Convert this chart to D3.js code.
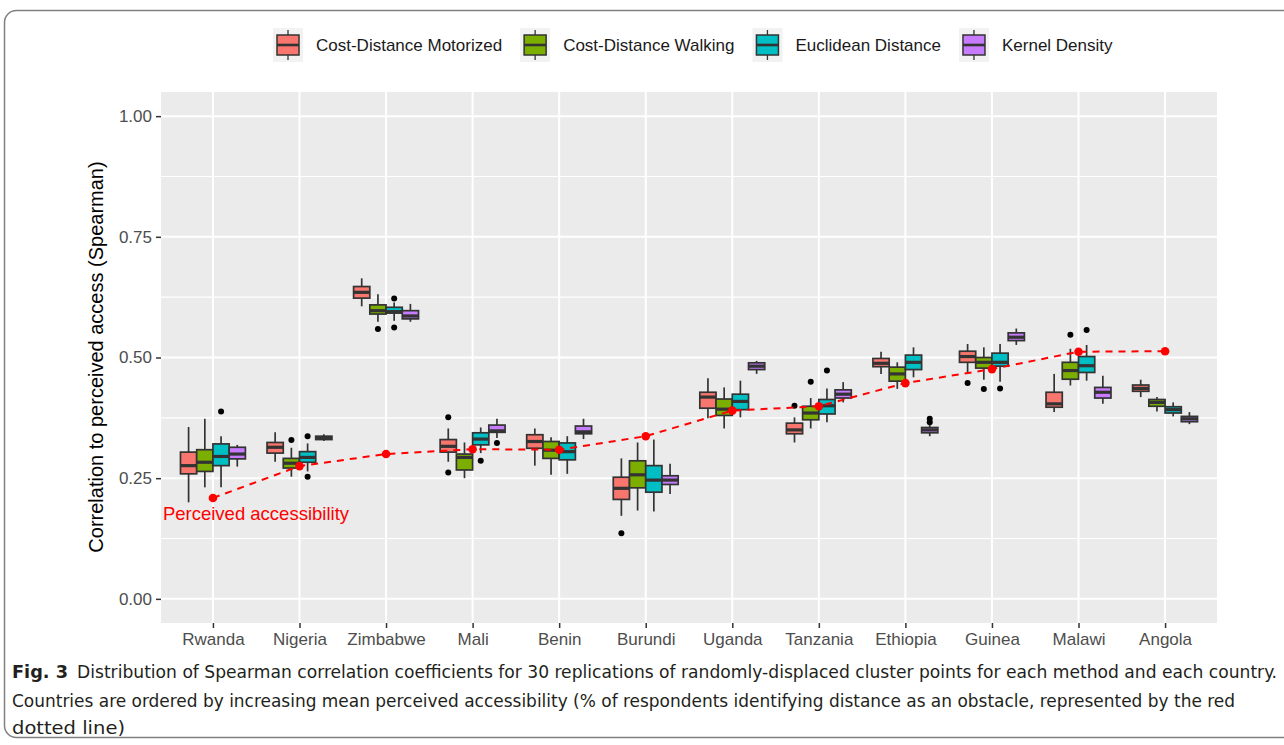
<!DOCTYPE html>
<html>
<head>
<meta charset="utf-8">
<script src="https://cdn.jsdelivr.net/npm/d3@7"></script>
<style>
  body { margin: 0; background: #fff; }
  svg { display: block; font-family: "Liberation Sans", Arial, sans-serif; }
</style>
</head>
<body>
<svg width="1284" height="745"></svg>
<script>
// countries, ordered by perceived accessibility
var countries = ['Rwanda', 'Nigeria', 'Zimbabwe', 'Mali', 'Benin', 'Burundi',
  'Uganda', 'Tanzania', 'Ethiopia', 'Guinea', 'Malawi', 'Angola'];
var methods = ['Cost-Distance Motorized', 'Cost-Distance Walking', 'Euclidean Distance', 'Kernel Density'];
var colors = ['#F8766D', '#7CAE00', '#00BFC4', '#C77CFF'];

// box stats per country: [lower whisker, q1, median, q3, upper whisker]
var motorized = [
  [0.200, 0.259, 0.276, 0.304, 0.356], [0.284, 0.302, 0.314, 0.324, 0.345],
  [0.606, 0.623, 0.635, 0.647, 0.664], [0.284, 0.304, 0.316, 0.330, 0.353],
  [0.276, 0.312, 0.326, 0.340, 0.353], [0.172, 0.206, 0.229, 0.252, 0.291],
  [0.374, 0.395, 0.418, 0.428, 0.457], [0.324, 0.342, 0.350, 0.364, 0.376],
  [0.466, 0.481, 0.488, 0.498, 0.512], [0.468, 0.490, 0.502, 0.513, 0.528],
  [0.387, 0.397, 0.404, 0.428, 0.466], [0.418, 0.430, 0.436, 0.443, 0.454]];
var walking = [
  [0.231, 0.264, 0.283, 0.309, 0.373], [0.253, 0.271, 0.281, 0.291, 0.313],
  [0.574, 0.590, 0.597, 0.609, 0.631], [0.250, 0.267, 0.293, 0.300, 0.324],
  [0.257, 0.291, 0.308, 0.326, 0.335], [0.183, 0.230, 0.257, 0.286, 0.324],
  [0.353, 0.380, 0.393, 0.414, 0.438], [0.353, 0.371, 0.385, 0.399, 0.416],
  [0.435, 0.451, 0.466, 0.480, 0.490], [0.454, 0.478, 0.490, 0.500, 0.521],
  [0.442, 0.455, 0.473, 0.490, 0.518], [0.388, 0.399, 0.407, 0.413, 0.418]];
var euclidean = [
  [0.231, 0.276, 0.295, 0.321, 0.337], [0.264, 0.283, 0.293, 0.305, 0.322],
  [0.576, 0.592, 0.595, 0.604, 0.614], [0.302, 0.319, 0.331, 0.344, 0.355],
  [0.259, 0.288, 0.305, 0.323, 0.337], [0.181, 0.221, 0.246, 0.276, 0.330],
  [0.376, 0.392, 0.409, 0.424, 0.452], [0.366, 0.383, 0.400, 0.413, 0.436],
  [0.459, 0.475, 0.490, 0.505, 0.521], [0.450, 0.482, 0.490, 0.509, 0.528],
  [0.452, 0.469, 0.483, 0.502, 0.526], [0.378, 0.385, 0.392, 0.398, 0.407]];
var kernel = [
  [0.274, 0.290, 0.300, 0.314, 0.319], [0.327, 0.330, 0.333, 0.337, 0.341],
  [0.574, 0.580, 0.586, 0.597, 0.611], [0.333, 0.345, 0.348, 0.360, 0.373],
  [0.331, 0.342, 0.346, 0.358, 0.373], [0.217, 0.237, 0.246, 0.255, 0.280],
  [0.466, 0.475, 0.482, 0.489, 0.493], [0.407, 0.416, 0.424, 0.433, 0.449],
  [0.337, 0.344, 0.350, 0.355, 0.362], [0.526, 0.535, 0.542, 0.551, 0.560],
  [0.404, 0.416, 0.428, 0.438, 0.462], [0.362, 0.367, 0.373, 0.378, 0.387]];

// outliers: [country, method index, value]
var outliers = [
  ['Mali', 0, 0.376], ['Mali', 0, 0.262], ['Burundi', 0, 0.136], ['Tanzania', 0, 0.400], ['Guinea', 0, 0.447],
  ['Nigeria', 1, 0.329], ['Zimbabwe', 1, 0.559], ['Tanzania', 1, 0.450], ['Guinea', 1, 0.435], ['Malawi', 1, 0.547],
  ['Rwanda', 2, 0.388], ['Nigeria', 2, 0.337], ['Nigeria', 2, 0.253], ['Zimbabwe', 2, 0.622], ['Zimbabwe', 2, 0.562],
  ['Mali', 2, 0.286], ['Tanzania', 2, 0.473], ['Guinea', 2, 0.436], ['Malawi', 2, 0.557],
  ['Mali', 3, 0.323], ['Ethiopia', 3, 0.366], ['Ethiopia', 3, 0.373]];

// mean perceived accessibility (red dashed line)
var perceived = [0.209, 0.275, 0.300, 0.310, 0.309, 0.337, 0.390, 0.399, 0.447, 0.476, 0.512, 0.513];

var yTicks = [0, 0.25, 0.5, 0.75, 1];
var yMinor = [0.125, 0.375, 0.625, 0.875];

var stats = [motorized, walking, euclidean, kernel];

var svg = d3.select('svg');
var panel = {left: 161, right: 1217, top: 92, bottom: 623};

var x = d3.scalePoint().domain(countries).range([panel.left, panel.right]).padding(0.6);
var y = d3.scaleLinear().domain([-0.05, 1.05]).range([panel.bottom, panel.top]);
var groupW = x.step() * 0.75;
var boxW = groupW / methods.length;
function slot(c, m) { return x(c) - groupW / 2 + boxW * (m + 0.5); }

// outer frame of the figure
svg.append('rect')
  .attr('x', 4.5).attr('y', 10.5).attr('width', 1320).attr('height', 727)
  .attr('rx', 12)
  .attr('fill', 'none').attr('stroke', '#808080').attr('stroke-width', 1.5);

// panel background + grid
svg.append('rect')
  .attr('x', panel.left).attr('y', panel.top)
  .attr('width', panel.right - panel.left).attr('height', panel.bottom - panel.top)
  .attr('fill', '#EBEBEB');

var grid = svg.append('g');
grid.selectAll('.minor').data(yMinor).enter().append('line')
  .attr('x1', panel.left).attr('x2', panel.right)
  .attr('y1', d => y(d)).attr('y2', d => y(d))
  .attr('stroke', '#fff').attr('stroke-width', 1.1);
grid.selectAll('.hmajor').data(yTicks).enter().append('line')
  .attr('x1', panel.left).attr('x2', panel.right)
  .attr('y1', d => y(d)).attr('y2', d => y(d))
  .attr('stroke', '#fff').attr('stroke-width', 2);
grid.selectAll('.vmajor').data(countries).enter().append('line')
  .attr('y1', panel.top).attr('y2', panel.bottom)
  .attr('x1', d => x(d)).attr('x2', d => x(d))
  .attr('stroke', '#fff').attr('stroke-width', 2);

// axes
var yAxis = svg.append('g')
  .attr('transform', 'translate(' + panel.left + ',0)')
  .call(d3.axisLeft(y).tickValues(yTicks).tickFormat(d3.format('.2f')).tickSize(5).tickPadding(4));
var xAxis = svg.append('g')
  .attr('transform', 'translate(0,' + panel.bottom + ')')
  .call(d3.axisBottom(x).tickSize(5).tickPadding(5));
[yAxis, xAxis].forEach(a => {
  a.select('.domain').remove();
  a.selectAll('line').attr('stroke', '#333').attr('stroke-width', 1.5);
  a.selectAll('text').attr('fill', '#4D4D4D').style('font-size', '17px')
    .style('font-family', '"Liberation Sans", Arial, sans-serif');
});

svg.append('text')
  .attr('transform', 'translate(103,357) rotate(-90)')
  .attr('text-anchor', 'middle')
  .style('font-size', '20px').attr('fill', '#000')
  .text('Correlation to perceived access (Spearman)');

// boxplots
var boxes = svg.append('g');
stats.forEach((series, m) => {
  var g = boxes.append('g');
  var items = series.map((s, i) => ({c: countries[i], s: s}));
  g.selectAll('.whisk').data(items).enter().append('line')
    .attr('x1', d => slot(d.c, m)).attr('x2', d => slot(d.c, m))
    .attr('y1', d => y(d.s[0])).attr('y2', d => y(d.s[4]))
    .attr('stroke', '#333').attr('stroke-width', 1.7);
  g.selectAll('.box').data(items).enter().append('rect')
    .attr('x', d => slot(d.c, m) - boxW / 2)
    .attr('width', boxW)
    .attr('y', d => y(d.s[3]))
    .attr('height', d => y(d.s[1]) - y(d.s[3]))
    .attr('fill', colors[m]).attr('stroke', '#333').attr('stroke-width', 1.7);
  g.selectAll('.med').data(items).enter().append('line')
    .attr('x1', d => slot(d.c, m) - boxW / 2).attr('x2', d => slot(d.c, m) + boxW / 2)
    .attr('y1', d => y(d.s[2])).attr('y2', d => y(d.s[2]))
    .attr('stroke', '#333').attr('stroke-width', 3.2);
});

boxes.selectAll('.outlier').data(outliers).enter().append('circle')
  .attr('cx', d => slot(d[0], d[1])).attr('cy', d => y(d[2]))
  .attr('r', 3).attr('fill', '#000');

// perceived accessibility
var line = d3.line().x((d, i) => x(countries[i])).y(d => y(d));
svg.append('path')
  .datum(perceived)
  .attr('d', line)
  .attr('fill', 'none').attr('stroke', '#FF0000').attr('stroke-width', 2)
  .attr('stroke-dasharray', '7,6');
svg.selectAll('.pdot').data(perceived).enter().append('circle')
  .attr('cx', (d, i) => x(countries[i])).attr('cy', d => y(d))
  .attr('r', 4.3).attr('fill', '#FF0000');
svg.append('text')
  .attr('x', x(countries[0]) - 50).attr('y', y(perceived[0]) + 22)
  .attr('fill', '#FF0000').style('font-size', '18.5px')
  .text('Perceived accessibility');

// legend
var legend = svg.append('g');
var lx = 273;
methods.forEach((name, m) => {
  var item = legend.append('g').attr('transform', 'translate(' + lx + ',28)');
  item.append('rect').attr('width', 30).attr('height', 34).attr('fill', '#F2F2F2');
  item.append('line').attr('x1', 15).attr('x2', 15).attr('y1', 2).attr('y2', 32)
    .attr('stroke', '#333').attr('stroke-width', 1.3);
  item.append('rect').attr('x', 4).attr('y', 7).attr('width', 22).attr('height', 20)
    .attr('fill', colors[m]).attr('stroke', '#333').attr('stroke-width', 1.5);
  item.append('line').attr('x1', 4).attr('x2', 26).attr('y1', 17).attr('y2', 17)
    .attr('stroke', '#333').attr('stroke-width', 2.6);
  var t = item.append('text').attr('x', 43).attr('y', 23)
    .style('font-size', '17px').attr('fill', '#1A1A1A').text(name);
  lx += 43 + t.node().getComputedTextLength() + 18;
});

// caption
var cap = svg.append('g')
  .style('font-family', '"DejaVu Sans Condensed", "Liberation Sans Narrow", "Open Sans", sans-serif')
  .style('font-stretch', 'condensed')
  .style('font-size', '18px').attr('fill', '#231F20');
cap.append('text').attr('x', 12).attr('y', 678).style('font-weight', 'bold')
  .attr('textLength', 56).attr('lengthAdjust', 'spacingAndGlyphs').text('Fig. 3');
cap.append('text').attr('x', 77).attr('y', 678)
  .attr('textLength', 1200).attr('lengthAdjust', 'spacingAndGlyphs')
  .text('Distribution of Spearman correlation coefficients for 30 replications of randomly-displaced cluster points for each method and each country.');
cap.append('text').attr('x', 12).attr('y', 707)
  .attr('textLength', 1223).attr('lengthAdjust', 'spacingAndGlyphs')
  .text('Countries are ordered by increasing mean perceived accessibility (% of respondents identifying distance as an obstacle, represented by the red');
cap.append('text').attr('x', 12).attr('y', 734)
  .attr('textLength', 113).attr('lengthAdjust', 'spacingAndGlyphs')
  .text('dotted line)');
</script>
</body>
</html>
